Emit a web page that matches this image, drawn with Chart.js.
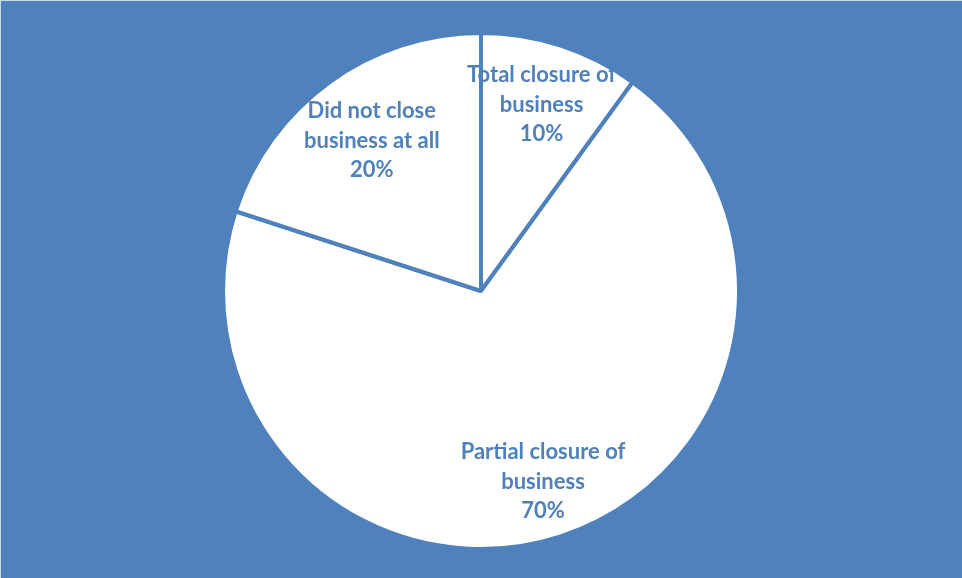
<!DOCTYPE html>
<html>
<head>
<meta charset="utf-8">
<title>Business closure</title>
<script src="https://cdn.jsdelivr.net/npm/chart.js@4/dist/chart.umd.min.js"></script>
<style>
  html, body { margin: 0; padding: 0; background: #4F81BD; }
  #wrap { position: relative; width: 962px; height: 578px; box-sizing: border-box;
          border-top: 1px solid #c9d7ea; border-left: 1px solid #c9d7ea; }
  canvas { display: block; }
</style>
</head>
<body>
<div id="wrap"><canvas id="chart" width="961" height="577"></canvas></div>
<script>
// Categories, clockwise from 12 o'clock
const categories = ['Total closure of business', 'Partial closure of business', 'Did not close business at all'];
// Wrapped label lines for each category
const categoryLines = [
  ['Total closure of', 'business'],
  ['Partial closure of', 'business'],
  ['Did not close', 'business at all']
];
// Share of respondents, percent
const shares = [10, 70, 20];

const BLUE = '#4F81BD';

// Draws "name / value%" labels inside each slice
const sliceLabels = {
  id: 'sliceLabels',
  afterDatasetsDraw(chart, args, opts) {
    const ctx = chart.ctx;
    const meta = chart.getDatasetMeta(0);
    ctx.save();
    ctx.fillStyle = opts.color;
    ctx.font = opts.font;
    ctx.textAlign = 'center';
    ctx.textBaseline = 'middle';
    meta.data.forEach((arc, i) => {
      const p = arc.getProps(['x', 'y', 'startAngle', 'endAngle', 'outerRadius'], true);
      const mid = (p.startAngle + p.endAngle) / 2;
      const r = p.outerRadius * opts.radial[i];
      const cx = p.x + Math.cos(mid) * r;
      const cy = p.y + Math.sin(mid) * r;
      const lines = categoryLines[i].concat([shares[i] + '%']);
      const lh = opts.lineHeight;
      const top = cy - (lines.length - 1) * lh / 2;
      lines.forEach((t, k) => ctx.fillText(t, cx, top + k * lh));
    });
    ctx.restore();
  }
};

new Chart(document.getElementById('chart'), {
  type: 'pie',
  data: {
    labels: categories,
    datasets: [{
      data: shares,
      backgroundColor: '#FFFFFF',
      borderColor: BLUE,
      borderWidth: 4,
      hoverOffset: 0
    }]
  },
  options: {
    responsive: false,
    animation: false,
    events: [],
    layout: { padding: { top: 30, bottom: 27, left: 0, right: 1 } },
    plugins: {
      legend: { display: false },
      tooltip: { enabled: false },
      sliceLabels: {
        color: BLUE,
        font: 'bold 22px Lato, "Open Sans", sans-serif',
        lineHeight: 29.5,
        radial: [0.76, 0.778, 0.72]
      }
    }
  },
  plugins: [sliceLabels]
});
</script>
</body>
</html>
